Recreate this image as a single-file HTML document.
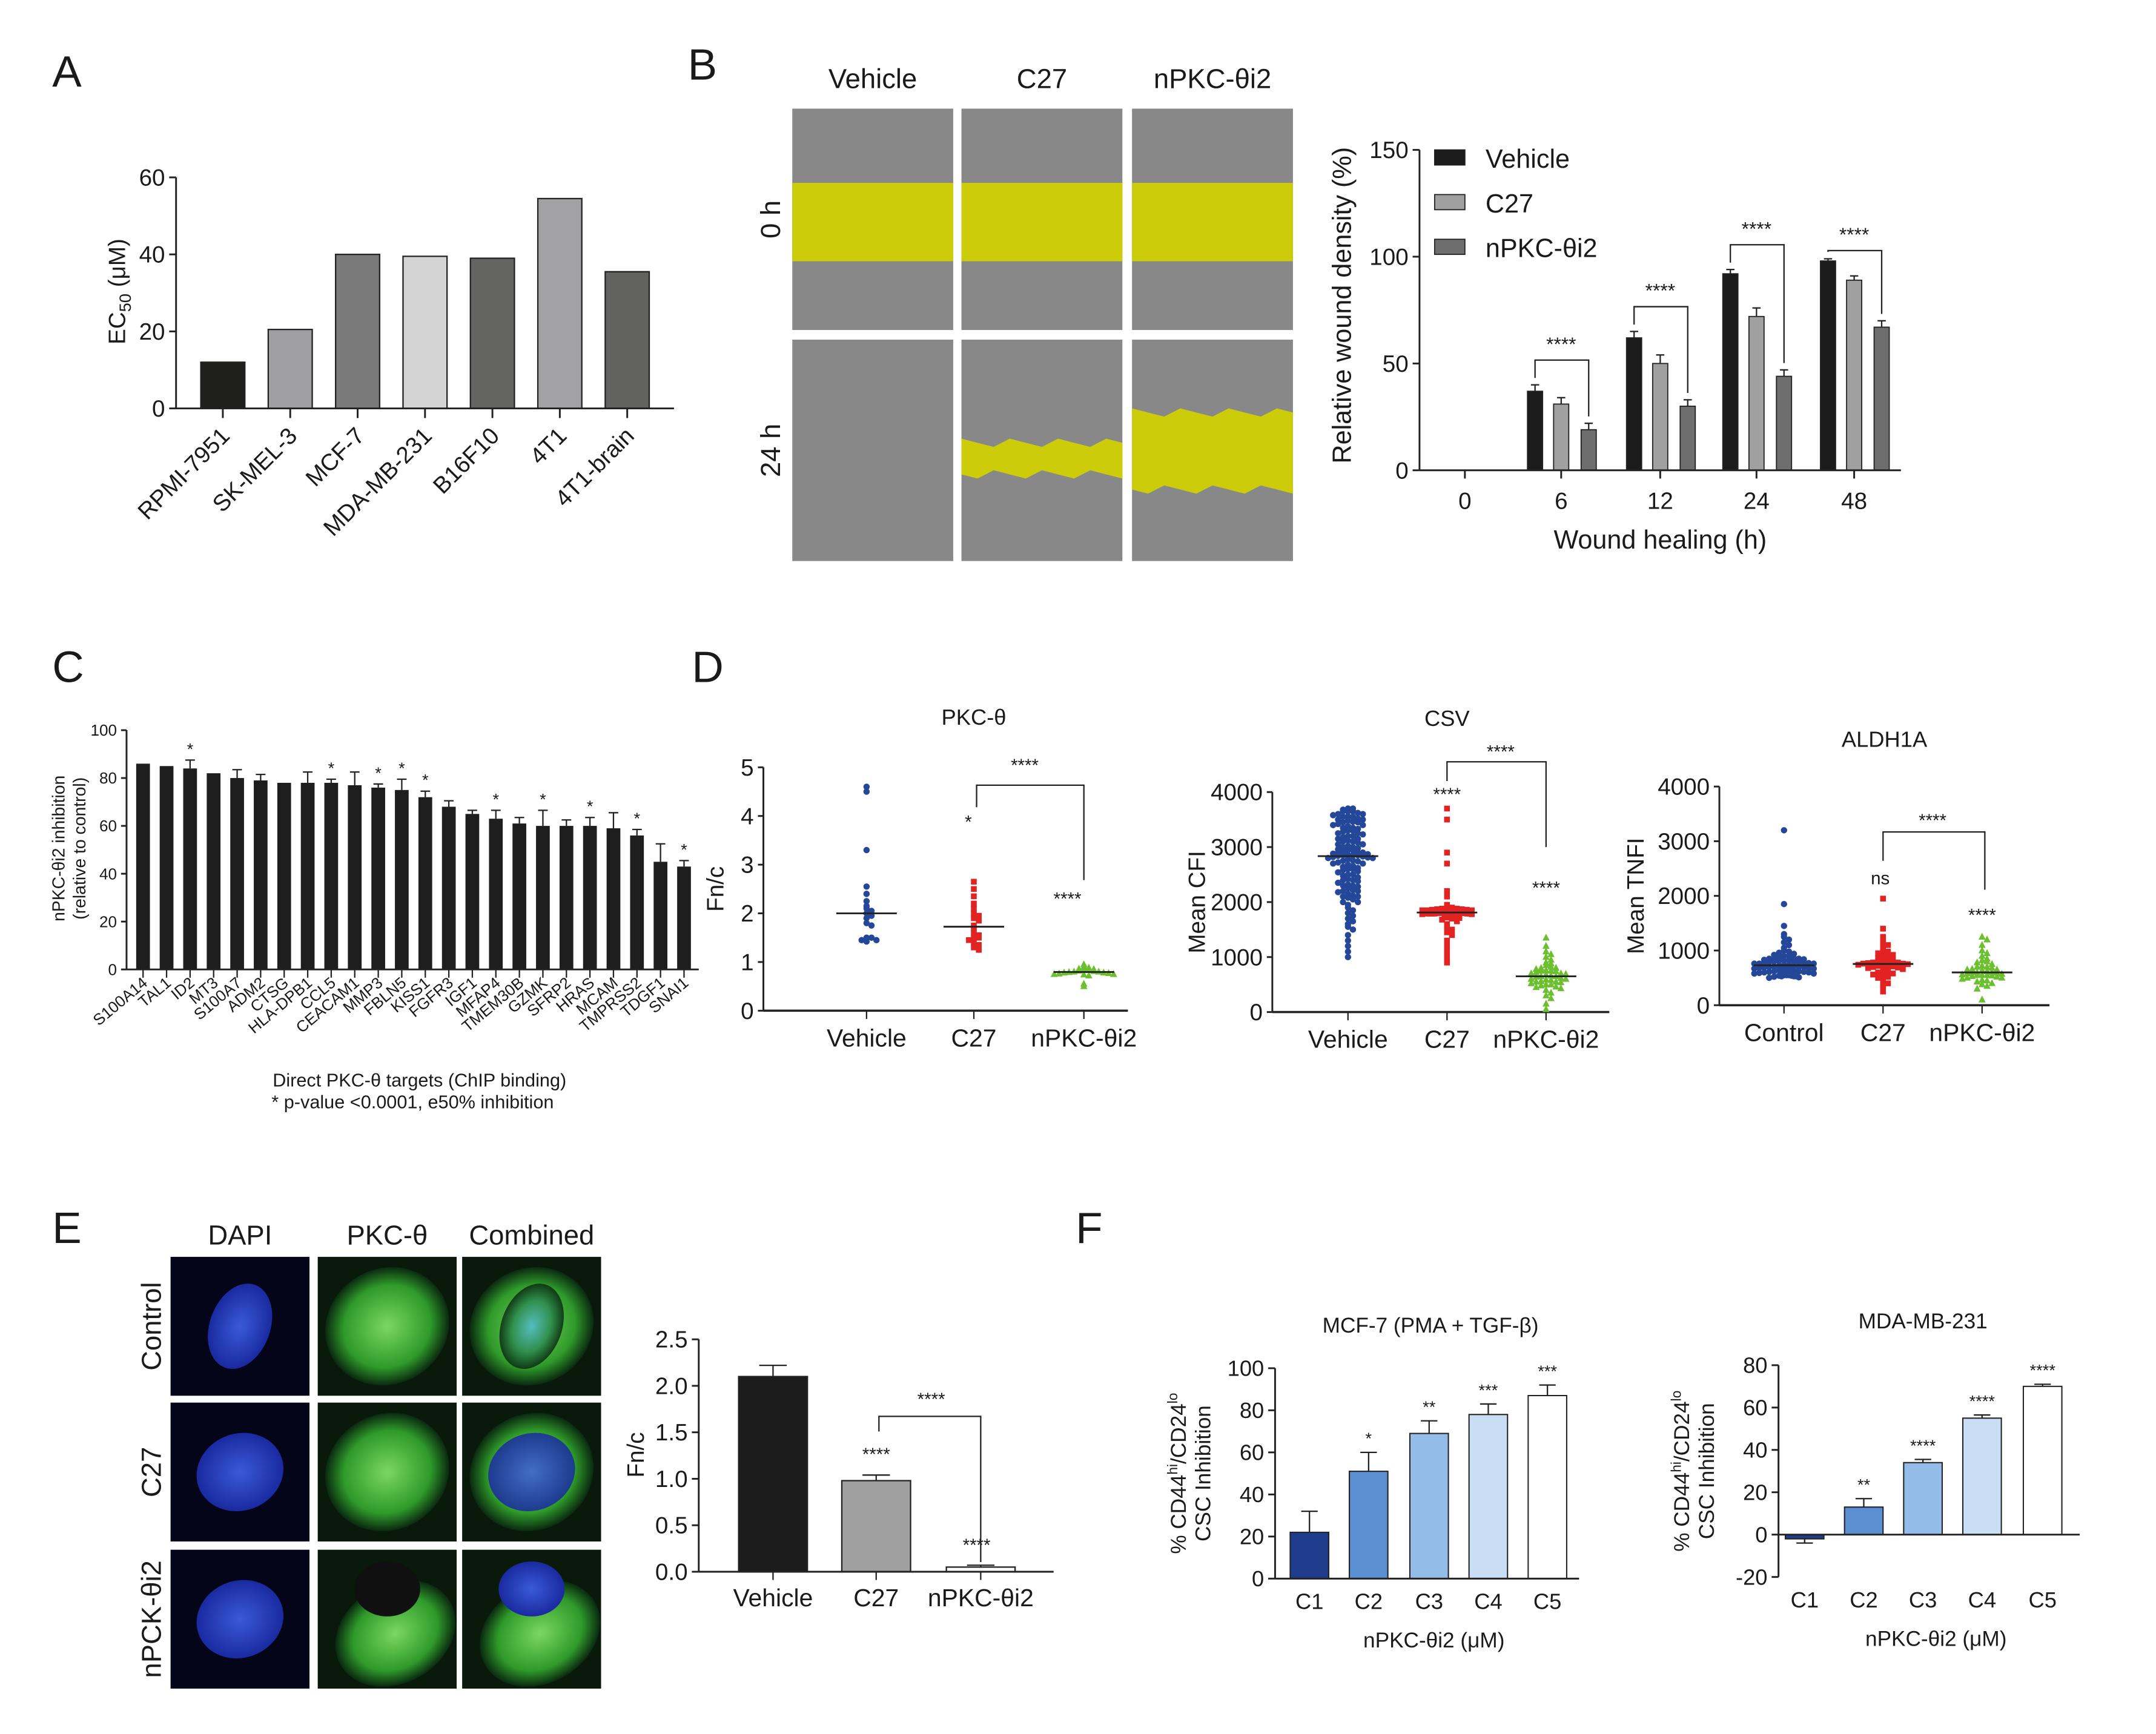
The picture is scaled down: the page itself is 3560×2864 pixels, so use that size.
<!DOCTYPE html>
<html><head><meta charset="utf-8"><style>
html,body{margin:0;padding:0;background:#fff;}
svg{display:block;font-family:"Liberation Sans",Arial,sans-serif;}
</style></head><body>
<svg id="root" xmlns="http://www.w3.org/2000/svg" width="3560" height="2864" viewBox="0 0 1567 1261" preserveAspectRatio="xMinYMin meet">
<defs>
<radialGradient id="nucB" cx="50%" cy="50%" r="50%"><stop offset="0" stop-color="#3a5ad8"/><stop offset="1" stop-color="#1a2aa0"/></radialGradient>
<radialGradient id="cellG" cx="50%" cy="50%" r="50%"><stop offset="0" stop-color="#7ad860"/><stop offset="0.7" stop-color="#2f9a2a"/><stop offset="1" stop-color="#0a2a10"/></radialGradient>
<radialGradient id="cellC" cx="50%" cy="50%" r="50%"><stop offset="0" stop-color="#50b8d0"/><stop offset="0.6" stop-color="#2a8a50"/><stop offset="1" stop-color="#0a2a10"/></radialGradient>
</defs>
<g id="gA"></g>
<g id="gB"></g>
<g id="gC"></g>
<g id="gD"></g>
<g id="gE"></g>
<g id="gF"></g>
</svg>
<script>
// ---------- DATA ----------
const aCats = ["RPMI-7951","SK-MEL-3","MCF-7","MDA-MB-231","B16F10","4T1","4T1-brain"];
const aVals = [12,20.5,40,39.5,39,54.5,35.5];
const aTicks = [0,20,40,60];

const bCats = ["0","6","12","24","48"];
const bVeh = [0,37,62,92,98];
const bC27 = [0,31,50,72,89];
const bNP = [0,19,30,44,67];
const bVehErr = [0,3,3,2,1];
const bC27Err = [0,3,4,4,2];
const bNPErr = [0,3,3,3,3];
const bTicks = [0,50,100,150];

const cCats = ["S100A14","TAL1","ID2","MT3","S100A7","ADM2","CTSG","HLA-DPB1","CCL5","CEACAM1","MMP3","FBLN5","KISS1","FGFR3","IGF1","MFAP4","TMEM30B","GZMK","SFRP2","HRAS","MCAM","TMPRSS2","TDGF1","SNAI1"];
const cVals = [86,85,84,82,80,79,78,78,78,77,76,75,72,68,65,63,61,60,60,60,59,56,45,43];
const cErr = [0,0,3.5,0,3.5,2.5,0,4.5,1.5,5.5,1.5,4.5,2.5,2.5,1.5,3.5,2.5,6.5,2.5,3.5,6.5,2.5,7.5,2.5];
const cStar = [0,0,1,0,0,0,0,0,1,0,1,1,1,0,0,1,0,1,0,1,0,1,0,1];
const cTicks = [0,20,40,60,80,100];

const pkcVeh = [4.6,4.5,3.3,2.55,2.4,2.25,2.15,2.1,2.05,2.0,1.95,1.9,1.8,1.75,1.5,1.45,1.45,1.42,1.5];
const pkcC27 = [2.65,2.5,2.35,2.2,2.1,2.0,1.95,1.9,1.85,1.75,1.7,1.6,1.55,1.5,1.45,1.4,1.35,1.3,1.25,1.5];
const pkcNP = [0.95,0.9,0.88,0.86,0.85,0.84,0.83,0.82,0.81,0.8,0.8,0.79,0.78,0.78,0.77,0.76,0.75,0.75,0.74,0.72,0.55,0.5];
const csvVeh = [3700,3680,3650,3620,3600,3580,3560,3550,3520,3500,3480,3460,3450,3420,3400,3380,3350,3330,3300,3280,3250,3230,3200,3180,3150,3120,3100,3080,3050,3020,3000,2980,2960,2940,2920,2900,2880,2870,2860,2850,2840,2830,2820,2810,2800,2780,2760,2740,2720,2700,2680,2660,2640,2620,2600,2580,2560,2540,2500,2480,2450,2420,2400,2380,2350,2320,2300,2280,2250,2220,2200,2180,2150,2120,2100,2080,2050,2000,1950,1900,1850,1800,1750,1700,1650,1600,1550,1500,1400,1300,1200,1100,1000,3700,3650,3600,3500,3400,3300,3200,3100,3000,2900,2850,2800,2750,2700,2600,2500,2400,2300,2200,2100,2000,3650,3550,3450,3350,3250,3150,3050,2950,2900,2850];
const csvC27 = [3700,3500,2900,2700,2200,2100,1950,1900,1900,1880,1870,1860,1850,1850,1840,1840,1830,1830,1820,1820,1810,1810,1800,1800,1800,1790,1790,1780,1780,1770,1760,1750,1740,1720,1700,1680,1650,1600,1550,1500,1450,1400,1300,1200,1100,1000,900,1850,1850,1830,1820,1810,1860,1870,1880,1790];
const csvNP = [1350,1200,1100,1050,1000,950,900,880,850,820,800,780,760,750,740,720,700,690,680,660,650,640,620,600,590,580,560,550,540,520,500,480,460,450,430,400,350,300,250,150,50,700,650,600,550,500,800,750];
const alCtrl = [3200,1850,1450,1300,1250,1200,1150,1100,1050,1000,980,960,940,920,900,880,860,850,840,830,820,810,800,790,780,770,760,750,740,730,720,710,700,690,680,670,660,650,640,630,620,610,600,590,580,570,560,550,540,530,520,510,500,900,850,800,780,760,740,720,700,680,660,640,620,600,580,560,850,820,790,760,730,700,670,640,610,580,550];
const alC27 = [1950,1400,1250,1150,1100,1050,1000,980,950,920,900,880,860,840,820,800,790,780,770,760,750,740,730,720,710,700,690,680,660,640,620,600,580,560,540,520,500,450,400,350,250,800,780,760,740,720];
const alNP = [1250,1200,1100,1000,950,900,850,820,800,780,750,720,700,680,660,650,640,620,600,590,580,570,560,550,540,530,520,500,480,460,450,430,400,380,350,300,100,700,650,600,550,500,600,550];
const dTicksPKC = [0,1,2,3,4,5];
const dTicks4000 = [0,1000,2000,3000,4000];

const eCats = ["Vehicle","C27","nPKC-θi2"];
const eVals = [2.1,0.98,0.05];
const eErr = [0.12,0.06,0.02];
const eTicks = [0,0.5,1.0,1.5,2.0,2.5];

const fCats = ["C1","C2","C3","C4","C5"];
const f1Vals = [22,51,69,78,87];
const f1Err = [10,9,6,5,5];
const f1Stars = ["","*","**","***","***"];
const f1Ticks = [0,20,40,60,80,100];
const f2Vals = [-2,13,34,55,70];
const f2Err = [2,4,1.5,1.5,1];
const f2Stars = ["","**","****","****","****"];
const f2Ticks = [-20,0,20,40,60,80];

// ---------- HELPERS ----------
const NS="http://www.w3.org/2000/svg";
function mk(tag, attrs, parent){const e=document.createElementNS(NS,tag);for(const k in attrs)e.setAttribute(k,attrs[k]);parent.appendChild(e);return e;}
function txt(parent,x,y,s,size,anchor,extra){const t=mk('text',Object.assign({x:x,y:y,'font-size':size,'text-anchor':anchor||'middle',fill:'#1a1a1a'},extra||{}),parent);t.textContent=s;return t;}
function line(parent,x1,y1,x2,y2,w,c){return mk('line',{x1:x1,y1:y1,x2:x2,y2:y2,stroke:c||'#222','stroke-width':w||1.3},parent);}
function yAxis(parent,x,ticks,sc,size,fmt,tl){
  line(parent,x,sc(ticks[0]),x,sc(ticks[ticks.length-1]));
  ticks.forEach(t=>{const y=sc(t);line(parent,x-(tl||5),y,x,y);
    const lb=txt(parent,x-(tl||5)-3,y+size*0.35,fmt?fmt(t):String(t),size,'end');
    
    });
}
const gA=document.getElementById('gA'),gB=document.getElementById('gB'),gC=document.getElementById('gC'),gD=document.getElementById('gD'),gE=document.getElementById('gE'),gF=document.getElementById('gF');

[[gA,'A',38,63],[gB,'B',500,58],[gC,'C',38,496],[gD,'D',503,496],[gE,'E',38,904],[gF,'F',782,904]].forEach(p=>{
  const t=txt(p[0],p[2],p[3],p[1],32,'start');
  
  
});

// ---------- PANEL A ----------
(function(){
  const yA=v=>297-v/60*168; const x0=128, xEnd=490;
  const colors=['#1f1f1d','#a0a0a2','#7a7a7a','#d4d4d4','#646462','#a2a2a4','#626260'];
  aVals.forEach((v,i)=>{const cx=162+49*i;
    const r=mk('rect',{x:cx-16,y:yA(v),width:32,height:yA(0)-yA(v),fill:colors[i],stroke:'#222','stroke-width':1},gA);
    
    
    line(gA,cx,297,cx,304);
    const t=txt(gA,cx+6,318,aCats[i],17,'end',{transform:`rotate(-45 ${cx+6} 318)`});
    
    
  });
  line(gA,x0,297,xEnd,297);
  yAxis(gA,x0,aTicks,yA,17);
  const yl=mk('text',{x:0,y:0,'font-size':17,'text-anchor':'middle',fill:'#1a1a1a',transform:'translate(91 212) rotate(-90)'},gA);
  yl.innerHTML='EC<tspan font-size="12" dy="4">50</tspan><tspan dy="-4"> (μM)</tspan>';
  
  
})();

// ---------- PANEL B ----------
(function(){
  const cols=[576,699,823], w=117, rows=[79,247], h=161;
  ['Vehicle','C27','nPKC-θi2'].forEach((s,i)=>{const t=txt(gB,cols[i]+w/2,64,s,20,'middle');
    
    });
  ['0 h','24 h'].forEach((s,i)=>{const cy=rows[i]+h/2;const t=txt(gB,567,cy,s,20,'middle',{transform:`rotate(-90 567 ${cy})`});
    
    });
  const bands=[[[133,190],[133,190],[133,190]],[null,[322,345],[300,356]]];
  rows.forEach((ry,ri)=>cols.forEach((cx,ci)=>{
    const g=mk('g',{},gB);
    
    
    mk('rect',{x:cx,y:ry,width:w,height:h,fill:'#888888'},g);
    const b=bands[ri][ci];
    if(b){
      let d=`M${cx} ${b[0]}`;for(let k=0;k<=10;k++){d+=` L${cx+k*w/10} ${b[0]+(ri?((k%3)-1)*3:0)}`;}
      for(let k=10;k>=0;k--){d+=` L${cx+k*w/10} ${b[1]+(ri?(((k+1)%3)-1)*3:0)}`;}
      d+='Z';mk('path',{d:d,fill:'#cccc0a'},g);
    }
  }));
  const yB=v=>342-v/150*233, X0=1032, xs=[1065,1135,1207,1277,1348];
  const series=[[bVeh,bVehErr,'#1c1c1c',-19],[bC27,bC27Err,'#a0a0a0',0],[bNP,bNPErr,'#6e6e6e',20]];
  xs.forEach((cx,i)=>{
    series.forEach((s,si)=>{const v=s[0][i];if(v<=0)return;const bx=cx+s[3];
      const r=mk('rect',{x:bx-5.5,y:yB(v),width:11,height:yB(0)-yB(v),fill:s[2],stroke:'#222','stroke-width':0.8},gB);
      
      
      const e=s[1][i];line(gB,bx,yB(v),bx,yB(v+e),1);line(gB,bx-3,yB(v+e),bx+3,yB(v+e),1);
    });
    line(gB,cx,342,cx,348);
    const t=txt(gB,cx,370,bCats[i],17,'middle');
    
    
    if(i>0){const top=Math.max(bVeh[i]+bVehErr[i],bC27[i]+bC27Err[i]);const by=yB(top)-(i==4?6:18);
      const x1=cx-19,x2=cx+20;
      mk('path',{d:`M${x1} ${yB(bVeh[i]+bVehErr[i])-5} L${x1} ${by} L${x2} ${by} L${x2} ${yB(bNP[i]+bNPErr[i])-5}`,fill:'none',stroke:'#222','stroke-width':1},gB);
      const st=txt(gB,cx,by-7,'****',14,'middle');
      
      }
  });
  line(gB,X0,342,1382,342);
  yAxis(gB,X0,bTicks,yB,17);
  const yt=txt(gB,0,0,'Relative wound density (%)',19,'middle',{transform:'translate(982 222) rotate(-90)'});
  
  
  const xt=txt(gB,1207,399,'Wound healing (h)',19,'middle');
  
  
  ['Vehicle','C27','nPKC-θi2'].forEach((s,i)=>{const y=115+i*32.5;
    const g=mk('g',{},gB);
    
    
    mk('rect',{x:1043,y:y-6,width:22,height:11,fill:series[i][2],stroke:'#222','stroke-width':0.8},g);
    txt(g,1080,y+7,s,19,'start');});
})();

// ---------- PANEL C ----------
(function(){
  const yC=v=>705-v*1.74, X0=92;
  cVals.forEach((v,i)=>{const cx=104+i*17.1;
    const r=mk('rect',{x:cx-5,y:yC(v),width:10,height:yC(0)-yC(v),fill:'#1e1e1e'},gC);
    
    
    if(cErr[i]>0){line(gC,cx,yC(v),cx,yC(v+cErr[i]),1);line(gC,cx-3.5,yC(v+cErr[i]),cx+3.5,yC(v+cErr[i]),1);}
    if(cStar[i]){const s=txt(gC,cx,yC(v+cErr[i])-4,'*',12,'middle');
      
      }
    line(gC,cx,705,cx,711,1);
    const t=txt(gC,cx+4,716,cCats[i],11.5,'end',{transform:`rotate(-40 ${cx+4} 716)`});
    
    
  });
  line(gC,X0,705,508,705);
  yAxis(gC,X0,cTicks,yC,11.5,null,4);
  const yt=mk('text',{x:0,y:0,'font-size':12.5,'text-anchor':'middle',fill:'#1a1a1a',transform:'translate(47 617) rotate(-90)'},gC);
  yt.innerHTML='<tspan x="0" dy="0">nPKC-θi2 inhibition</tspan><tspan x="0" dy="15">(relative to control)</tspan>';
  
  
  const n1=txt(gC,305,790,'Direct PKC-θ targets (ChIP binding)',13.5,'middle');
  
  
  const n2=txt(gC,300,806,'* p-value <0.0001, e50% inhibition',13.5,'middle');
  
  
})();

// ---------- PANEL D ----------
function swarm(parent,vals,cx,sc,shape,color,name,half){
  const bins={};const sorted=vals.slice().sort((a,b)=>b-a);
  const sp=3.6, cap=Math.floor(half/sp)*2+1;
  sorted.forEach(v=>{let y=sc(v);const k=Math.round(y/3.5);bins[k]=(bins[k]||0)+1;let n=bins[k]-1;
    const layer=Math.floor(n/cap);n=n%cap;
    const off=(n%2?1:-1)*Math.ceil(n/2)*sp+(layer%2?sp/2:0);const x=cx+off;y+=layer?((layer%2)?1.2:-1.2):0;let m;
    if(shape==='c')m=mk('circle',{cx:x,cy:y,r:2.3,fill:color},parent);
    else if(shape==='s')m=mk('rect',{x:x-2.1,y:y-2.1,width:4.2,height:4.2,fill:color},parent);
    else m=mk('path',{d:`M${x} ${y-3} L${x+2.6} ${y+2} L${x-2.6} ${y+2}Z`,fill:color},parent);
    
    
  });
  const s=vals.slice().sort((a,b)=>a-b);const med=s.length%2?s[(s.length-1)/2]:(s[s.length/2-1]+s[s.length/2])/2;
  const ml=line(parent,cx-22,sc(med),cx+22,sc(med),1.3,'#222');
  
  
}
function dPlot(cfg){
  const g=mk('g',{},gD);
  
  
  const sc=v=>cfg.y0-(v-cfg.ticks[0])/(cfg.ticks[cfg.ticks.length-1]-cfg.ticks[0])*(cfg.y0-cfg.yTop);
  line(g,cfg.x0,cfg.y0,cfg.xEnd,cfg.y0,1.6);
  yAxis(g,cfg.x0,cfg.ticks,sc,17,null,4);
  cfg.series.forEach((s,i)=>{swarm(g,s[0],cfg.xs[i],sc,s[1],s[2],s[3],cfg.halves[i]);
    line(g,cfg.xs[i],cfg.y0,cfg.xs[i],cfg.y0+6,1);
    const t=txt(g,cfg.xs[i],cfg.y0+26,cfg.cats[i],18,'middle');
    
    });
  const tt=txt(g,cfg.titleX,cfg.titleY,cfg.title,16,'middle');
  
  
  const yt=txt(g,0,0,cfg.ylab,17,'middle',{transform:`translate(${cfg.ylx} ${(cfg.y0+cfg.yTop)/2}) rotate(-90)`});
  
  
  cfg.marks.forEach(m=>{const t=txt(g,m[0],m[1],m[2],13,'middle');
    
    });
  mk('path',{d:cfg.bracket,fill:'none',stroke:'#222','stroke-width':1},g);
}
dPlot({name:'pkc-theta-plot',x0:555,xEnd:820,y0:735,yTop:558,ticks:dTicksPKC,xs:[630,708,788],cats:['Vehicle','C27','nPKC-θi2'],halves:[18,18,26],
  series:[[pkcVeh,'c','#24479a','point-vehicle'],[pkcC27,'s','#e32222','point-c27'],[pkcNP,'t','#6cbf2e','point-npkc']],
  title:'PKC-θ',titleX:708,titleY:527,ylab:'Fn/c',ylx:526,
  marks:[[704,602,'*'],[745,561,'****'],[776,658,'****']],bracket:'M710 587 L710 571 L788 571 L788 640'});
dPlot({name:'csv-plot',x0:925,xEnd:1170,y0:736,yTop:576,ticks:dTicks4000,xs:[980,1052,1124],cats:['Vehicle','C27','nPKC-θi2'],halves:[22,20,20],
  series:[[csvVeh,'c','#24479a','point-vehicle'],[csvC27,'s','#e32222','point-c27'],[csvNP,'t','#6cbf2e','point-npkc']],
  title:'CSV',titleX:1052,titleY:528,ylab:'Mean CFI',ylx:876,
  marks:[[1052,582,'****'],[1091,551,'****'],[1124,650,'****']],bracket:'M1052 568 L1052 554 L1124 554 L1124 616'});
dPlot({name:'aldh1a-plot',x0:1250,xEnd:1490,y0:731,yTop:572,ticks:dTicks4000,xs:[1297,1369,1441],cats:['Control','C27','nPKC-θi2'],halves:[22,20,20],
  series:[[alCtrl,'c','#24479a','point-control'],[alC27,'s','#e32222','point-c27'],[alNP,'t','#6cbf2e','point-npkc']],
  title:'ALDH1A',titleX:1370,titleY:543,ylab:'Mean TNFI',ylx:1195,
  marks:[[1367,643,'ns'],[1405,601,'****'],[1441,670,'****']],bracket:'M1369 626 L1369 605 L1443 605 L1443 647'});

// ---------- PANEL E ----------
(function(){
  const cols=[124,231,336], rows=[914,1020,1127], w=101, h=101;
  ['DAPI','PKC-θ','Combined'].forEach((s,i)=>{const t=txt(gE,cols[i]+w/2,905,s,20,'middle');
    
    });
  ['Control','C27','nPCK-θi2'].forEach((s,i)=>{const cy=rows[i]+h/2;const t=txt(gE,117,cy,s,20,'middle',{transform:`rotate(-90 117 ${cy})`});
    
    });
  rows.forEach((ry,ri)=>cols.forEach((cx,ci)=>{
    const g=mk('g',{},gE);
    
    
    mk('rect',{x:cx,y:ry,width:w,height:h,fill:ci==0?'#05051a':'#0a1a0a'},g);
    const mx=cx+w/2, my=ry+h/2;
    if(ci>0){mk('ellipse',{cx:mx,cy:my+(ri==2?12:0),rx:46,ry:ri==2?36:42,fill:'url(#cellG)',transform:`rotate(-30 ${mx} ${my})`},g);}
    if(ri==2&&ci>0){mk('ellipse',{cx:mx,cy:my-22,rx:24,ry:20,fill:ci==1?'#101010':'url(#nucB)'},g);}
    if(ci==0||ci==2){if(!(ri==2&&ci==2))mk('ellipse',{cx:mx,cy:my,rx:ri==0?22:32,ry:ri==0?32:28,fill:ci==2&&ri==0?'url(#cellC)':'url(#nucB)',opacity:ci==2?0.85:1,transform:`rotate(${ri==0?20:-20} ${mx} ${my})`},g);}
  }));
  const yE=v=>1143-v/2.5*169, xs=[562,637,713], fills=['#1c1c1c','#a0a0a0','#ffffff'];
  eVals.forEach((v,i)=>{const cx=xs[i];
    const r=mk('rect',{x:cx-25,y:yE(v),width:50,height:Math.max(1,yE(0)-yE(v)),fill:fills[i],stroke:'#222','stroke-width':1},gE);
    
    
    const e=eErr[i];line(gE,cx,yE(v),cx,yE(v+e),1);line(gE,cx-10,yE(v+e),cx+10,yE(v+e),1);
    line(gE,cx,1143,cx,1149,1);
    const t=txt(gE,cx,1168,eCats[i],18,'middle');
    
    
  });
  line(gE,508,1143,766,1143);
  yAxis(gE,508,eTicks,yE,17,v=>v.toFixed(1),5);
  const yt=txt(gE,0,0,'Fn/c',17,'middle',{transform:'translate(468 1058) rotate(-90)'});
  
  
  [[637,1062],[710,1128],[677,1022]].forEach(p=>{const t=txt(gE,p[0],p[1],'****',13,'middle');
    
    });
  mk('path',{d:'M639 1041 L639 1030 L713 1030 L713 1136',fill:'none',stroke:'#222','stroke-width':1},gE);
})();

// ---------- PANEL F ----------
function fPlot(name,x0,xEnd,sc,y0,vals,errs,stars,ticks,xs,title,tx,ty,ylx){
  const g=mk('g',{},gF);
  
  
  const fills=['#1f3b8c','#5a8fd2','#93bce8','#c9def4','#ffffff'];
  vals.forEach((v,i)=>{const cx=xs[i];const top=Math.min(sc(v),sc(0)),hgt=Math.abs(sc(v)-sc(0));
    const r=mk('rect',{x:cx-14,y:top,width:28,height:Math.max(hgt,1),fill:fills[i],stroke:'#222','stroke-width':0.9},g);
    
    
    const ee=v>=0?v+errs[i]:v-errs[i];line(g,cx,sc(v),cx,sc(ee),1);line(g,cx-6,sc(ee),cx+6,sc(ee),1);
    if(stars[i]){const s=txt(g,cx,sc(v+errs[i])-6,stars[i],12,'middle');
      
      }
    const t=txt(g,cx,y0+22,fCats[i],16,'middle');
    
    
  });
  line(g,x0,sc(0),xEnd,sc(0));
  yAxis(g,x0,ticks,sc,16,null,5);
  const tt=txt(g,tx,ty,title,15.5,'middle');
  
  
  const xt=txt(g,(x0+xEnd)/2+5,y0+50,'nPKC-θi2 (μM)',15.5,'middle');
  
  
  const cy=(sc(ticks[0])+sc(ticks[ticks.length-1]))/2;
  const yt=mk('text',{x:0,y:0,'font-size':15.5,'text-anchor':'middle',fill:'#1a1a1a',transform:`translate(${ylx} ${cy}) rotate(-90)`},g);
  yt.innerHTML='<tspan x="0" dy="0">% CD44<tspan font-size="10" dy="-6">hi</tspan><tspan dy="6">/CD24</tspan><tspan font-size="10" dy="-6">lo</tspan></tspan><tspan x="0" dy="24">CSC Inhibition</tspan>';
  
  
}
fPlot('mcf7-plot',927,1148,v=>1148-v*1.53,1148,f1Vals,f1Err,f1Stars,f1Ticks,[952,995,1039,1082,1125],'MCF-7 (PMA + TGF-β)',1040,969,862);
fPlot('mda-mb-231-plot',1293,1512,v=>1116-v*1.54,1147,f2Vals,f2Err,f2Stars,f2Ticks,[1312,1355,1398,1441,1485],'MDA-MB-231',1398,966,1228);
</script>
</body></html>
